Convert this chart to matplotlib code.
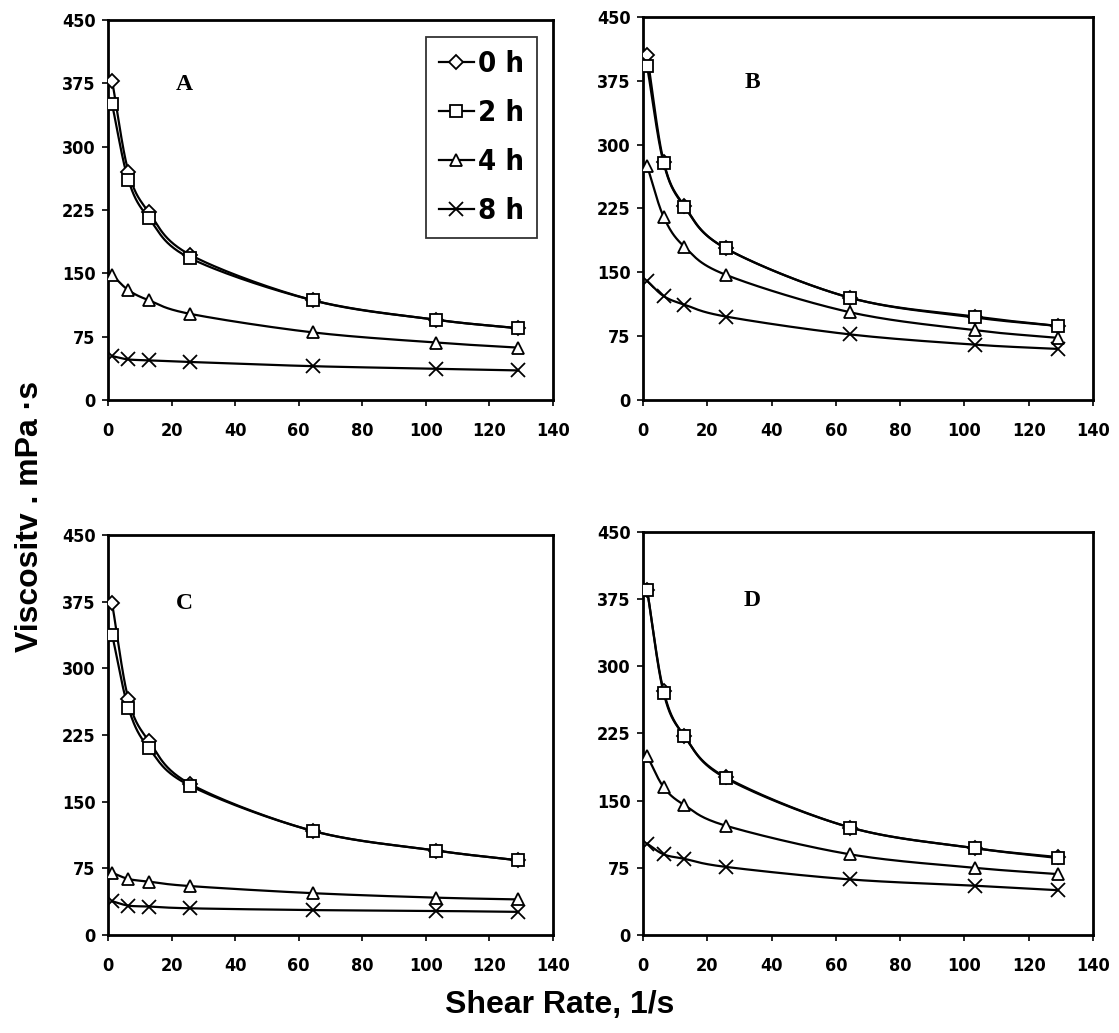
import numpy as np
import matplotlib
matplotlib.use("Agg")
import matplotlib.pyplot as plt
from matplotlib.lines import Line2D
from matplotlib import font_manager

# shear rates, 1/s
shear = [1.29, 6.45, 12.9, 25.8, 64.5, 103.2, 129.0]
labels = ["0 h", "2 h", "4 h", "8 h"]

# viscosity, mPa.s  (panel -> series)
A_0h = [378, 270, 222, 172, 118, 95, 85]
A_2h = [350, 260, 215, 168, 118, 95, 85]
A_4h = [148, 130, 118, 102, 80, 68, 62]
A_8h = [52, 48, 47, 45, 40, 37, 35]

B_0h = [405, 280, 228, 178, 120, 98, 87]
B_2h = [392, 278, 227, 178, 120, 97, 87]
B_4h = [275, 215, 180, 147, 103, 82, 73]
B_8h = [140, 122, 112, 98, 77, 65, 60]

C_0h = [373, 265, 218, 170, 117, 95, 84]
C_2h = [338, 255, 210, 168, 117, 95, 84]
C_4h = [70, 63, 60, 55, 47, 42, 40]
C_8h = [38, 33, 32, 30, 28, 27, 26]

D_0h = [385, 272, 222, 176, 120, 97, 87]
D_2h = [385, 270, 222, 175, 120, 97, 86]
D_4h = [200, 165, 145, 122, 90, 75, 68]
D_8h = [102, 90, 85, 76, 62, 55, 50]

panels = {
    "A": [A_0h, A_2h, A_4h, A_8h],
    "B": [B_0h, B_2h, B_4h, B_8h],
    "C": [C_0h, C_2h, C_4h, C_8h],
    "D": [D_0h, D_2h, D_4h, D_8h],
}

# condensed bold face for the ticks / legend (like arial narrow)
names = {f.name for f in font_manager.fontManager.ttflist}
print(sorted(n for n in names if "DejaVu" in n or "Narrow" in n or "Condensed" in n))
narrow_fam = "DejaVu Sans"
for cand in ["Liberation Sans Narrow", "DejaVu Sans Condensed"]:
    if cand in names:
        narrow_fam = cand
        break
narrow = font_manager.FontProperties(family=narrow_fam, weight="bold", stretch="condensed", size=13)
narrow_leg = font_manager.FontProperties(family=narrow_fam, weight="bold", stretch="condensed", size=21)

markers = ["D", "s", "^", "x"]
msizes = [7, 8, 8, 10]


def smooth(x, y, n=30):
    # catmull-rom through the points (like excel's smoothed line), in normalised coords
    px = np.asarray(x) / 140.0
    py = np.asarray(y) / 450.0
    P = np.column_stack([px, py])
    P = np.vstack([2 * P[0] - P[1], P, 2 * P[-1] - P[-2]])
    out = []
    for i in range(1, len(P) - 2):
        p0, p1, p2, p3 = P[i - 1], P[i], P[i + 1], P[i + 2]
        t = np.linspace(0, 1, n)[:, None]
        c = 0.5 * ((2 * p1) + (-p0 + p2) * t + (2 * p0 - 5 * p1 + 4 * p2 - p3) * t ** 2
                   + (-p0 + 3 * p1 - 3 * p2 + p3) * t ** 3)
        out.append(c)
    c = np.vstack(out)
    return c[:, 0] * 140.0, c[:, 1] * 450.0


fig = plt.figure(figsize=(11.19, 10.33), dpi=100)

pos = {
    "A": [0.0965, 0.6128, 0.3977, 0.3679],
    "B": [0.5746, 0.6128, 0.4021, 0.3708],
    "C": [0.0965, 0.0949, 0.3977, 0.3872],
    "D": [0.5746, 0.0949, 0.4021, 0.3901],
}
letter_x = {"A": 24, "B": 34, "C": 24, "D": 34}

for name, series in panels.items():
    ax = fig.add_axes(pos[name])
    for vals, mk, ms in zip(series, markers, msizes):
        sx, sy = smooth(shear, vals)
        ax.plot(sx, sy, color="black", lw=1.6, zorder=2)
        ax.plot(shear, vals, ls="none", marker=mk, ms=ms, mfc="white" if mk != "x" else "black",
                mec="black", mew=1.3, zorder=3)
    ax.set_xlim(0, 140)
    ax.set_ylim(0, 450)
    ax.set_xticks(range(0, 141, 20))
    ax.set_yticks(range(0, 451, 75))
    ax.tick_params(direction="out", length=4, width=1.2, pad=5)
    ax.tick_params(axis="x", pad=12)
    for lab in ax.get_xticklabels() + ax.get_yticklabels():
        lab.set_fontproperties(narrow)
    for sp in ax.spines.values():
        sp.set_linewidth(2)
    ax.text(letter_x[name], 373, name, fontsize=17, fontweight="bold",
            family=["Liberation Serif", "DejaVu Serif"], ha="center", va="center")

    if name == "A":
        handles = [Line2D([0], [0], color="black", lw=1.6, marker=mk, ms=ms,
                          mfc="white" if mk != "x" else "black", mec="black", mew=1.3)
                   for mk, ms in zip(markers, msizes)]
        leg = ax.legend(handles, labels, loc="upper right", bbox_to_anchor=(0.965, 0.955),
                        prop=narrow_leg,
                        frameon=True, fancybox=False, edgecolor="black",
                        handlelength=1.2, handletextpad=0.15, labelspacing=0.72,
                        borderpad=0.45, borderaxespad=0)
        leg.get_frame().set_linewidth(1.3)

fig.text(0.027, 0.5, "Viscositv . mPa \u00b7s", rotation=90, ha="center", va="center",
         fontsize=23, fontweight="bold", family=["Liberation Sans", "DejaVu Sans"])
fig.text(0.5, 0.027, "Shear Rate, 1/s", ha="center", va="center",
         fontsize=23, fontweight="bold", family=["Liberation Sans", "DejaVu Sans"])

fig.savefig("out.png", dpi=100, facecolor="white")
